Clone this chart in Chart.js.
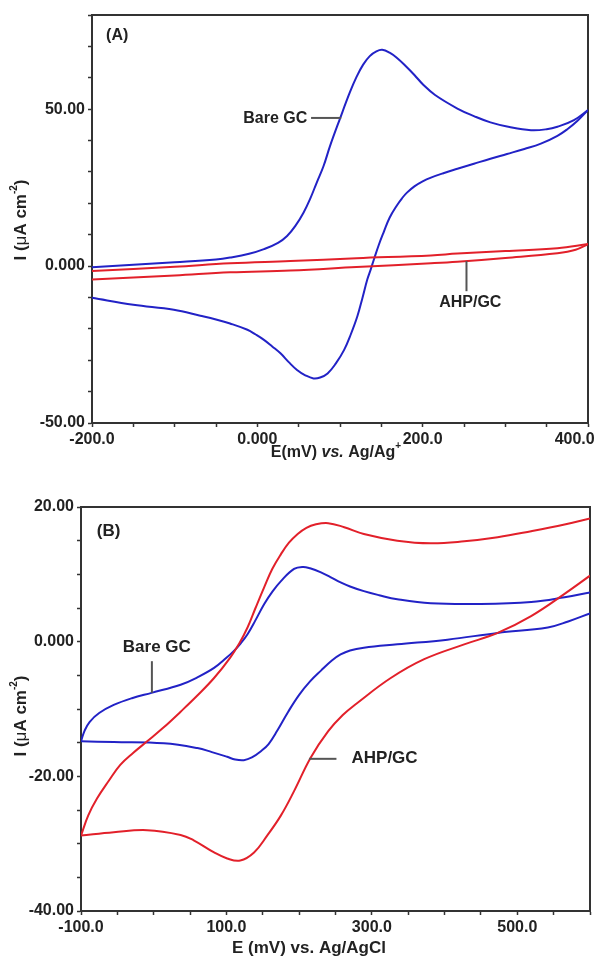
<!DOCTYPE html>
<html>
<head>
<meta charset="utf-8">
<script src="https://cdn.jsdelivr.net/npm/chart.js@4"></script>
<style>
  body { margin: 0; background: #fff; }
  canvas { position: absolute; left: 0; }
  #chartA { top: 0; }
  #chartB { top: 480px; }
</style>
</head>
<body>
<canvas id="chartA" width="596" height="480"></canvas>
<canvas id="chartB" width="596" height="480"></canvas>
<script>
// ---- panel A : E (mV) vs Ag/Ag+, I (uA cm-2); forward and reverse sweeps
const bareA_fwdE = [-200, -150, -100, -50, -33, -10, 8, 25, 36, 46, 56, 64, 72, 80, 88, 100, 112, 120, 128, 136, 144, 151, 160, 169, 180, 190, 201, 215, 242, 262, 282, 305, 331, 350, 363, 383, 400];
const bareA_fwdI = [-0.4, 0.4, 1.2, 2.1, 2.7, 3.9, 5.4, 7.4, 9.6, 12.8, 17.1, 21.5, 26.7, 31.8, 38.3, 47, 55.4, 60.3, 64.2, 66.9, 68.4, 68.9, 68.0, 66.3, 63.6, 60.9, 57.7, 54.5, 50.2, 47.8, 45.8, 44.3, 43.3, 43.6, 44.4, 46.5, 49.7];
const bareA_revE = [400, 387, 375, 363, 343, 323, 302, 282, 262, 242, 225, 210, 200, 190, 181, 175, 169, 160, 153, 147, 141, 137, 133, 127, 121, 113, 105, 95, 85, 76, 68, 58, 48, 38, 28, 18, 8, -2, -12, -33, -50, -69, -101, -150, -200];
const bareA_revI = [49.7, 46.2, 43.6, 41.5, 39.0, 37.3, 35.7, 34.2, 32.6, 31.0, 29.6, 28.2, 27.0, 25.4, 23.4, 21.6, 19.4, 15.4, 10.9, 6.8, 2.1, -1.2, -4.3, -10.3, -16, -21.8, -26.7, -31, -34.2, -35.5, -35.8, -34.8, -33.1, -30.6, -27.8, -25.6, -23.5, -21.8, -20.3, -18.3, -17, -15.8, -13.9, -12.3, -10.1];
const ahpA_fwdE = [-200, -100, -33, 40, 120, 210, 242, 300, 363, 400];
const ahpA_fwdI = [-1.6, -0.2, 0.9, 1.6, 2.5, 3.4, 4.0, 4.8, 5.7, 7.0];
const ahpA_revE = [400, 385, 363, 300, 242, 210, 120, 40, -33, -100, -200];
const ahpA_revI = [7.0, 5.2, 4.1, 2.6, 1.4, 0.9, -0.3, -1.4, -2.0, -3.0, -4.3];
const xTickValsA = [-200, 0, 200, 400];
const xTickTextA = ['-200.0', '0.000', '200.0', '400.0      '];
const yTickValsA = [-50, 0, 50];
const yTickTextA = ['-50.00', '0.000', '50.00'];

// ---- panel B : E (mV) vs Ag/AgCl, I (uA cm-2); forward and reverse sweeps
const bareB_fwdE = [-100, -95, -88, -75, -55, -30, -3, 37, 60, 83, 100, 110, 120, 129, 140, 152, 163, 175, 193, 205, 215, 230, 243, 257, 270, 289, 310, 335, 381, 450, 519, 565, 600];
const bareB_fwdI = [-14.8, -13.2, -11.9, -10.6, -9.4, -8.4, -7.6, -6.4, -5.3, -3.9, -2.4, -1.4, -0.2, 1.1, 3.2, 5.6, 7.4, 9.0, 10.8, 11.1, 10.9, 10.3, 9.6, 8.8, 8.2, 7.5, 6.9, 6.3, 5.7, 5.6, 5.9, 6.6, 7.3];
const bareB_revE = [600, 570, 542, 473, 404, 335, 289, 270, 257, 245, 230, 215, 200, 185, 170, 158, 147, 135, 124, 112, 101, 80, 60, 14, -55, -100];
const bareB_revI = [4.2, 3.0, 2.1, 1.3, 0.3, -0.4, -0.9, -1.3, -1.9, -2.8, -4.3, -5.9, -7.9, -10.4, -13.2, -15.2, -16.3, -17.2, -17.6, -17.5, -17.1, -16.4, -15.8, -15.1, -14.9, -14.8];
const ahpB_fwdE = [-100, -90, -78, -62, -46, -28, -9, 13, 37, 60, 83, 105, 118, 129, 140, 152, 163, 175, 186, 198, 210, 222, 240, 262, 289, 335, 381, 427, 473, 519, 565, 600];
const ahpB_fwdI = [-28.8, -25.8, -23.3, -20.7, -18.3, -16.5, -14.8, -12.8, -10.4, -8.0, -5.4, -2.4, -0.2, 2.1, 5.0, 8.1, 10.8, 13.0, 14.7, 16.0, 16.9, 17.4, 17.6, 17.0, 16.0, 15.0, 14.6, 14.9, 15.5, 16.4, 17.4, 18.3];
const ahpB_revE = [600, 565, 519, 473, 427, 372, 326, 280, 260, 240, 216, 193, 175, 156, 138, 119, 101, 83, 55, 37, -9, -55, -100];
const ahpB_revI = [9.8, 7.1, 3.8, 1.3, -0.4, -2.6, -5.4, -9.1, -10.9, -13.3, -17.2, -22.2, -25.8, -28.8, -31.3, -32.5, -32.2, -31.3, -29.5, -28.7, -28.0, -28.3, -28.8];
const xTickValsB = [-100, 100, 300, 500];
const xTickTextB = ['-100.0', '100.0', '300.0', '500.0'];
const yTickValsB = [20, 0, -20, -40];
const yTickTextB = ['20.00', '0.000', '-20.00', '-40.00'];

const BLUE = '#2222c6';
const RED = '#e2202a';
const INK = '#222';
const FAM = '"Liberation Sans", Arial, Helvetica, sans-serif';

const toPts = (xs, ys) => xs.map((x, i) => ({ x: x, y: ys[i] }));
const pick = (vals, text) => v => { const i = vals.indexOf(v); return i >= 0 ? text[i] : ''; };

function drawRich(ctx, parts, x, y, rot) {
  ctx.save();
  ctx.translate(x, y);
  ctx.rotate(rot || 0);
  let w = 0;
  parts.forEach(p => { ctx.font = p.font; w += ctx.measureText(p.t).width; });
  let cx = -w / 2;
  ctx.textBaseline = 'middle';
  ctx.textAlign = 'left';
  ctx.fillStyle = INK;
  parts.forEach(p => {
    ctx.font = p.font;
    ctx.fillText(p.t, cx, p.dy || 0);
    cx += ctx.measureText(p.t).width;
  });
  ctx.restore();
}

// frame, callout labels, leader lines and axis titles
const decor = {
  id: 'decor',
  beforeDatasetsDraw(chart) {
    const { ctx, chartArea: a } = chart;
    ctx.save();
    ctx.strokeStyle = '#333';
    ctx.lineWidth = 2;
    ctx.strokeRect(a.left, a.top, a.right - a.left, a.bottom - a.top);
    ctx.restore();
  },
  afterDraw(chart) {
    const cfg = chart.config.options.plugins.decor;
    const { ctx, scales: { x, y } } = chart;
    ctx.save();
    ctx.strokeStyle = '#555';
    ctx.lineWidth = 2;
    cfg.leaders.forEach(l => {
      ctx.beginPath();
      ctx.moveTo(x.getPixelForValue(l[0][0]), y.getPixelForValue(l[0][1]));
      ctx.lineTo(x.getPixelForValue(l[1][0]), y.getPixelForValue(l[1][1]));
      ctx.stroke();
    });
    ctx.fillStyle = INK;
    ctx.textBaseline = 'middle';
    cfg.notes.forEach(n => {
      ctx.font = 'bold ' + n.size + 'px ' + FAM;
      ctx.textAlign = n.align;
      ctx.fillText(n.text, x.getPixelForValue(n.x), y.getPixelForValue(n.y));
    });
    cfg.titles.forEach(t => drawRich(ctx, t.parts, t.x, t.y, t.rot));
    ctx.restore();
  }
};

function axis(min, max, step, cb, fitKey, fitVal) {
  return {
    type: 'linear',
    min: min,
    max: max,
    border: { display: true, color: '#333', width: 2 },
    grid: { drawOnChartArea: false, drawTicks: true, tickLength: 4, tickColor: '#333', tickWidth: 1.5 },
    ticks: {
      stepSize: step,
      autoSkip: false,
      maxRotation: 0,
      padding: 3,
      color: INK,
      font: { family: FAM, size: 16, weight: 'bold' },
      callback: cb
    },
    afterFit: s => {
      s[fitKey] = fitVal;
      s.paddingLeft = 0;
      s.paddingRight = 0;
      s.paddingTop = 0;
      s.paddingBottom = 0;
    }
  };
}

function yTitle(cx, cy) {
  return {
    x: cx, y: cy, rot: -Math.PI / 2,
    parts: [
      { t: 'I (', font: 'bold 17px ' + FAM },
      { t: '\u03bc', font: '17px ' + FAM },
      { t: 'A cm', font: 'bold 17px ' + FAM },
      { t: '-2', font: 'bold 10px ' + FAM, dy: -7 },
      { t: ')', font: 'bold 17px ' + FAM }
    ]
  };
}

function lineSet(label, xs, ys, color) {
  return {
    label: label,
    data: toPts(xs, ys),
    showLine: true,
    borderColor: color,
    borderWidth: 2,
    pointRadius: 0,
    tension: 0.4,
    fill: false
  };
}

new Chart(document.getElementById('chartA'), {
  type: 'scatter',
  data: {
    datasets: [
      lineSet('AHP/GC', ahpA_fwdE, ahpA_fwdI, RED),
      lineSet('AHP/GC', ahpA_revE, ahpA_revI, RED),
      lineSet('Bare GC', bareA_fwdE, bareA_fwdI, BLUE),
      lineSet('Bare GC', bareA_revE, bareA_revI, BLUE)
    ]
  },
  options: {
    responsive: false,
    animation: false,
    devicePixelRatio: 1,
    layout: { padding: { top: 15, right: 8, left: 0, bottom: 0 } },
    scales: {
      x: axis(-200, 400, 50, pick(xTickValsA, xTickTextA), 'height', 57),
      y: axis(-50, 80, 10, pick(yTickValsA, yTickTextA), 'width', 92)
    },
    plugins: {
      legend: { display: false },
      tooltip: { enabled: false },
      decor: {
        notes: [
          { text: '(A)', x: -183, y: 73.3, align: 'left', size: 16 },
          { text: 'Bare GC', x: -17, y: 47, align: 'left', size: 16 },
          { text: 'AHP/GC', x: 257.6, y: -11.5, align: 'center', size: 16 }
        ],
        leaders: [
          [[65, 47.2], [101.5, 47.2]],
          [[253, 1.6], [253, -8]]
        ],
        titles: [
          {
            x: 336, y: 453, rot: 0,
            parts: [
              { t: 'E(mV) ', font: 'bold 16px ' + FAM },
              { t: 'vs.', font: 'italic bold 16px ' + FAM },
              { t: ' Ag/Ag', font: 'bold 16px ' + FAM },
              { t: '+', font: 'bold 10px ' + FAM, dy: -7 }
            ]
          },
          yTitle(21, 220)
        ]
      }
    }
  },
  plugins: [decor]
});

new Chart(document.getElementById('chartB'), {
  type: 'scatter',
  data: {
    datasets: [
      lineSet('AHP/GC', ahpB_fwdE, ahpB_fwdI, RED),
      lineSet('AHP/GC', ahpB_revE, ahpB_revI, RED),
      lineSet('Bare GC', bareB_fwdE, bareB_fwdI, BLUE),
      lineSet('Bare GC', bareB_revE, bareB_revI, BLUE)
    ]
  },
  options: {
    responsive: false,
    animation: false,
    devicePixelRatio: 1,
    layout: { padding: { top: 27, right: 6, left: 0, bottom: 0 } },
    scales: {
      x: axis(-100, 600, 50, pick(xTickValsB, xTickTextB), 'height', 49),
      y: axis(-40, 20, 5, pick(yTickValsB, yTickTextB), 'width', 81)
    },
    plugins: {
      legend: { display: false },
      tooltip: { enabled: false },
      decor: {
        notes: [
          { text: '(B)', x: -78.3, y: 16.4, align: 'left', size: 17 },
          { text: 'Bare GC', x: -42.5, y: -0.9, align: 'left', size: 17 },
          { text: 'AHP/GC', x: 272, y: -17.3, align: 'left', size: 17 }
        ],
        leaders: [
          [[-2.5, -2.9], [-2.5, -7.6]],
          [[213.5, -17.4], [251.3, -17.4]]
        ],
        titles: [
          {
            x: 309, y: 468, rot: 0,
            parts: [{ t: 'E (mV) vs. Ag/AgCl', font: 'bold 17px ' + FAM }]
          },
          yTitle(21, 236)
        ]
      }
    }
  },
  plugins: [decor]
});
</script>
</body>
</html>
